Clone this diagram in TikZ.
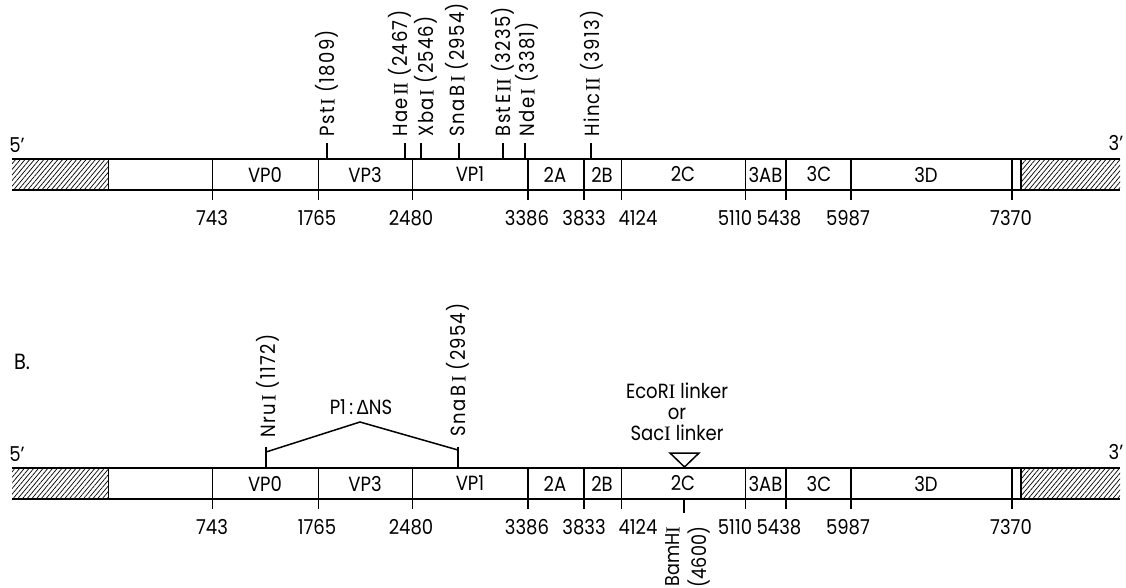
\documentclass[tikz,border=0pt]{standalone}
\usepackage{fontspec}
\setmainfont{Poppins}[FakeStretch=0.88]
\newfontfamily\grk{Liberation Sans}[FakeStretch=0.9]
\newfontfamily\serifI{Liberation Serif}
\usetikzlibrary{patterns.meta}
\newcommand{\myI}{{\serifI I}}
\newcommand{\myII}{{\serifI II}}
\newcommand{\enz}[3]{#1\hspace{2pt}#2\hspace{6pt}(#3)}
\newcommand{\genome}{%
  \node[lbl] (five) at (17,145) {5'};
  \node[lbl] (three) at (1116,143) {3'};
  \fill[hatch] (12,159) rectangle (108.5,190);
  \fill[hatch] (1021,159) rectangle (1120,190);
  \coordinate (tl) at (12,159); \coordinate (tr) at (1120,159);
  \coordinate (bl) at (12,190); \coordinate (br) at (1120,190);
  \draw (tl) -- (tr);
  \draw (bl) -- (br);
  \draw (108.5,159) -- (108.5,190);
  \draw (1021,159) -- (1021,190);
  \foreach \x/\n/\lx in {212.5/743/212, 318.5/1765/317, 412.5/2480/411, 528/3386/527,
      584/3833/584, 621.5/4124/638, 745.5/5110/735, 786/5438/779, 851/5987/848, 1012/7370/1011}{
    \draw (\x,159) -- (\x,200);
    \node[num] (n\n) at (\lx,218) {\n};
  }
  \foreach \x/\t in {265/VP0, 365/VP3, 470/VP1, 555/2A, 602/2B, 683/2C, 765.5/3AB, 819/3C, 926/3D}{
    \node[seg] (s\t) at (\x,174.5) {\t};
  }
}
\begin{document}
\begin{tikzpicture}[x=1pt,y=-1pt,line width=1.5pt,
  font=\fontsize{20.5}{22}\selectfont,
  lbl/.style={inner sep=0pt},
  num/.style={inner sep=0pt},
  seg/.style={inner sep=0pt},
  site/.style={rotate=90,anchor=west,inner sep=0pt,
    font=\fontsize{20.5}{22}\selectfont\addfontfeature{LetterSpace=6}},
  hatch/.style={pattern={Lines[angle=50,distance=3.6pt,line width=0.7pt]}}]
\useasboundingbox (0,0) rectangle (1126,587);
% ---------- panel A ----------
\begin{scope}[name prefix=a-]
\genome
\foreach \nm/\x/\lx/\txt in {pst/327/327/{\enz{Pst}{\myI}{1809}}, hae/405/400/{\enz{Hae}{\myII}{2467}},
    xba/421/426/{\enz{Xba}{\myI}{2546}}, sna/459/457/{\enz{Sna\,B}{\myI}{2954}},
    bst/503/503/{\enz{Bst\,E}{\myII}{3235}}, nde/525/527/{\enz{Nde}{\myI}{3381}},
    hinc/591/592/{\enz{Hinc}{\myII}{3913}}}{
  \node[site] (\nm) at (\lx,137) {\txt};
  \draw (\x,143) -- (\x,159);
}
\end{scope}
% ---------- panel B ----------
\begin{scope}[yshift=-309pt,name prefix=b-]
\genome
\end{scope}
\node[lbl,font=\fontsize{22}{24}\selectfont] (B) at (22,362) {B.};
\node[site] (nru) at (268,438) {\enz{Nru}{\myI}{1172}};
\node[site] (snab) at (458,437) {\enz{Sna\,B}{\myI}{2954}};
\coordinate (nrutop) at (266,447);
\coordinate (nrubot) at (266,468);
\coordinate (snatop) at (458,447);
\coordinate (snabot) at (458,468);
\draw (nrutop) -- (nrubot);
\draw (snatop) -- (snabot);
\coordinate (v1) at (266,452);
\coordinate (apex) at (360,422);
\coordinate (v2) at (458,450);
\draw[line join=miter] (v1) -- (apex) -- (v2);
\node[lbl] (del) at (361,407) {P1\,:\,{\grk Δ}NS};
\node[lbl,align=center,font=\fontsize{20.5}{21}\selectfont] (linker) at (677,412)
  {EcoR\myI\ linker\\or\\Sac\myI\ linker};
\coordinate (tria) at (670,453);
\coordinate (trib) at (699,453);
\coordinate (tric) at (684.5,467);
\draw[line join=miter] (tria) -- (trib) -- (tric) -- cycle;
\coordinate (bamtop) at (684,499);
\coordinate (bambot) at (684,513);
\draw (bamtop) -- (bambot);
\node[rotate=90,anchor=east,align=right,inner sep=0pt,font=\fontsize{20}{27}\selectfont]
  (bam) at (688,526) {BamH\myI\\(4600)};
\end{tikzpicture}
\end{document}
